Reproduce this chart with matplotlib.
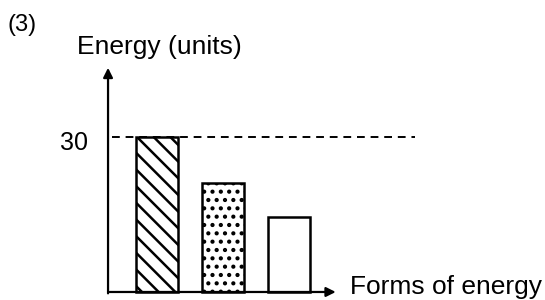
import matplotlib.pyplot as plt

plt.rcParams["font.family"] = ["Liberation Sans", "DejaVu Sans"]

# values
forms = ["A", "B", "C"]
energy = [30, 21, 14.5]
hatches = ["\\\\", "..", ""]
ref_level = 30


def main() -> None:
    fig = plt.figure(figsize=(5.45, 3.0), dpi=100)
    ax = fig.add_axes([0, 0, 1, 1])
    ax.set_xlim(-1.379, 6.879)
    ax.set_ylim(-1.55, 56.48)
    ax.axis("off")

    plt.rcParams["hatch.linewidth"] = 1.8
    x = list(range(1, len(forms) + 1))
    for xi, val, h in zip(x, energy, hatches):
        ax.bar(xi, val, width=0.64, facecolor="white", edgecolor="black",
               linewidth=1.8, hatch=h, zorder=2)

    # axes drawn as arrows
    ax.annotate("", xy=(0.258, 43.9), xytext=(0.258, -0.8),
                arrowprops=dict(arrowstyle="-|>", lw=1.6, color="black",
                                mutation_scale=14))
    ax.annotate("", xy=(3.75, 0), xytext=(0.24, 0),
                arrowprops=dict(arrowstyle="-|>", lw=1.6, color="black",
                                mutation_scale=14))

    # dashed reference line at 30
    ax.plot([0.32, 4.91], [ref_level, ref_level], color="black", lw=1.4,
            linestyle=(0, (4, 3)), zorder=3)

    ax.text(-0.045, 28.8, "30", ha="right", va="center", fontsize=18)
    ax.text(-1.258, 51.6, "(3)", ha="left", va="center", fontsize=17)
    ax.text(-0.212, 47.4, "Energy (units)", ha="left", va="center", fontsize=19)
    ax.text(3.924, 1.0, "Forms of energy", ha="left", va="center", fontsize=19)

    fig.savefig("out.png", dpi=100)
    plt.close(fig)


if __name__ == "__main__":
    main()
